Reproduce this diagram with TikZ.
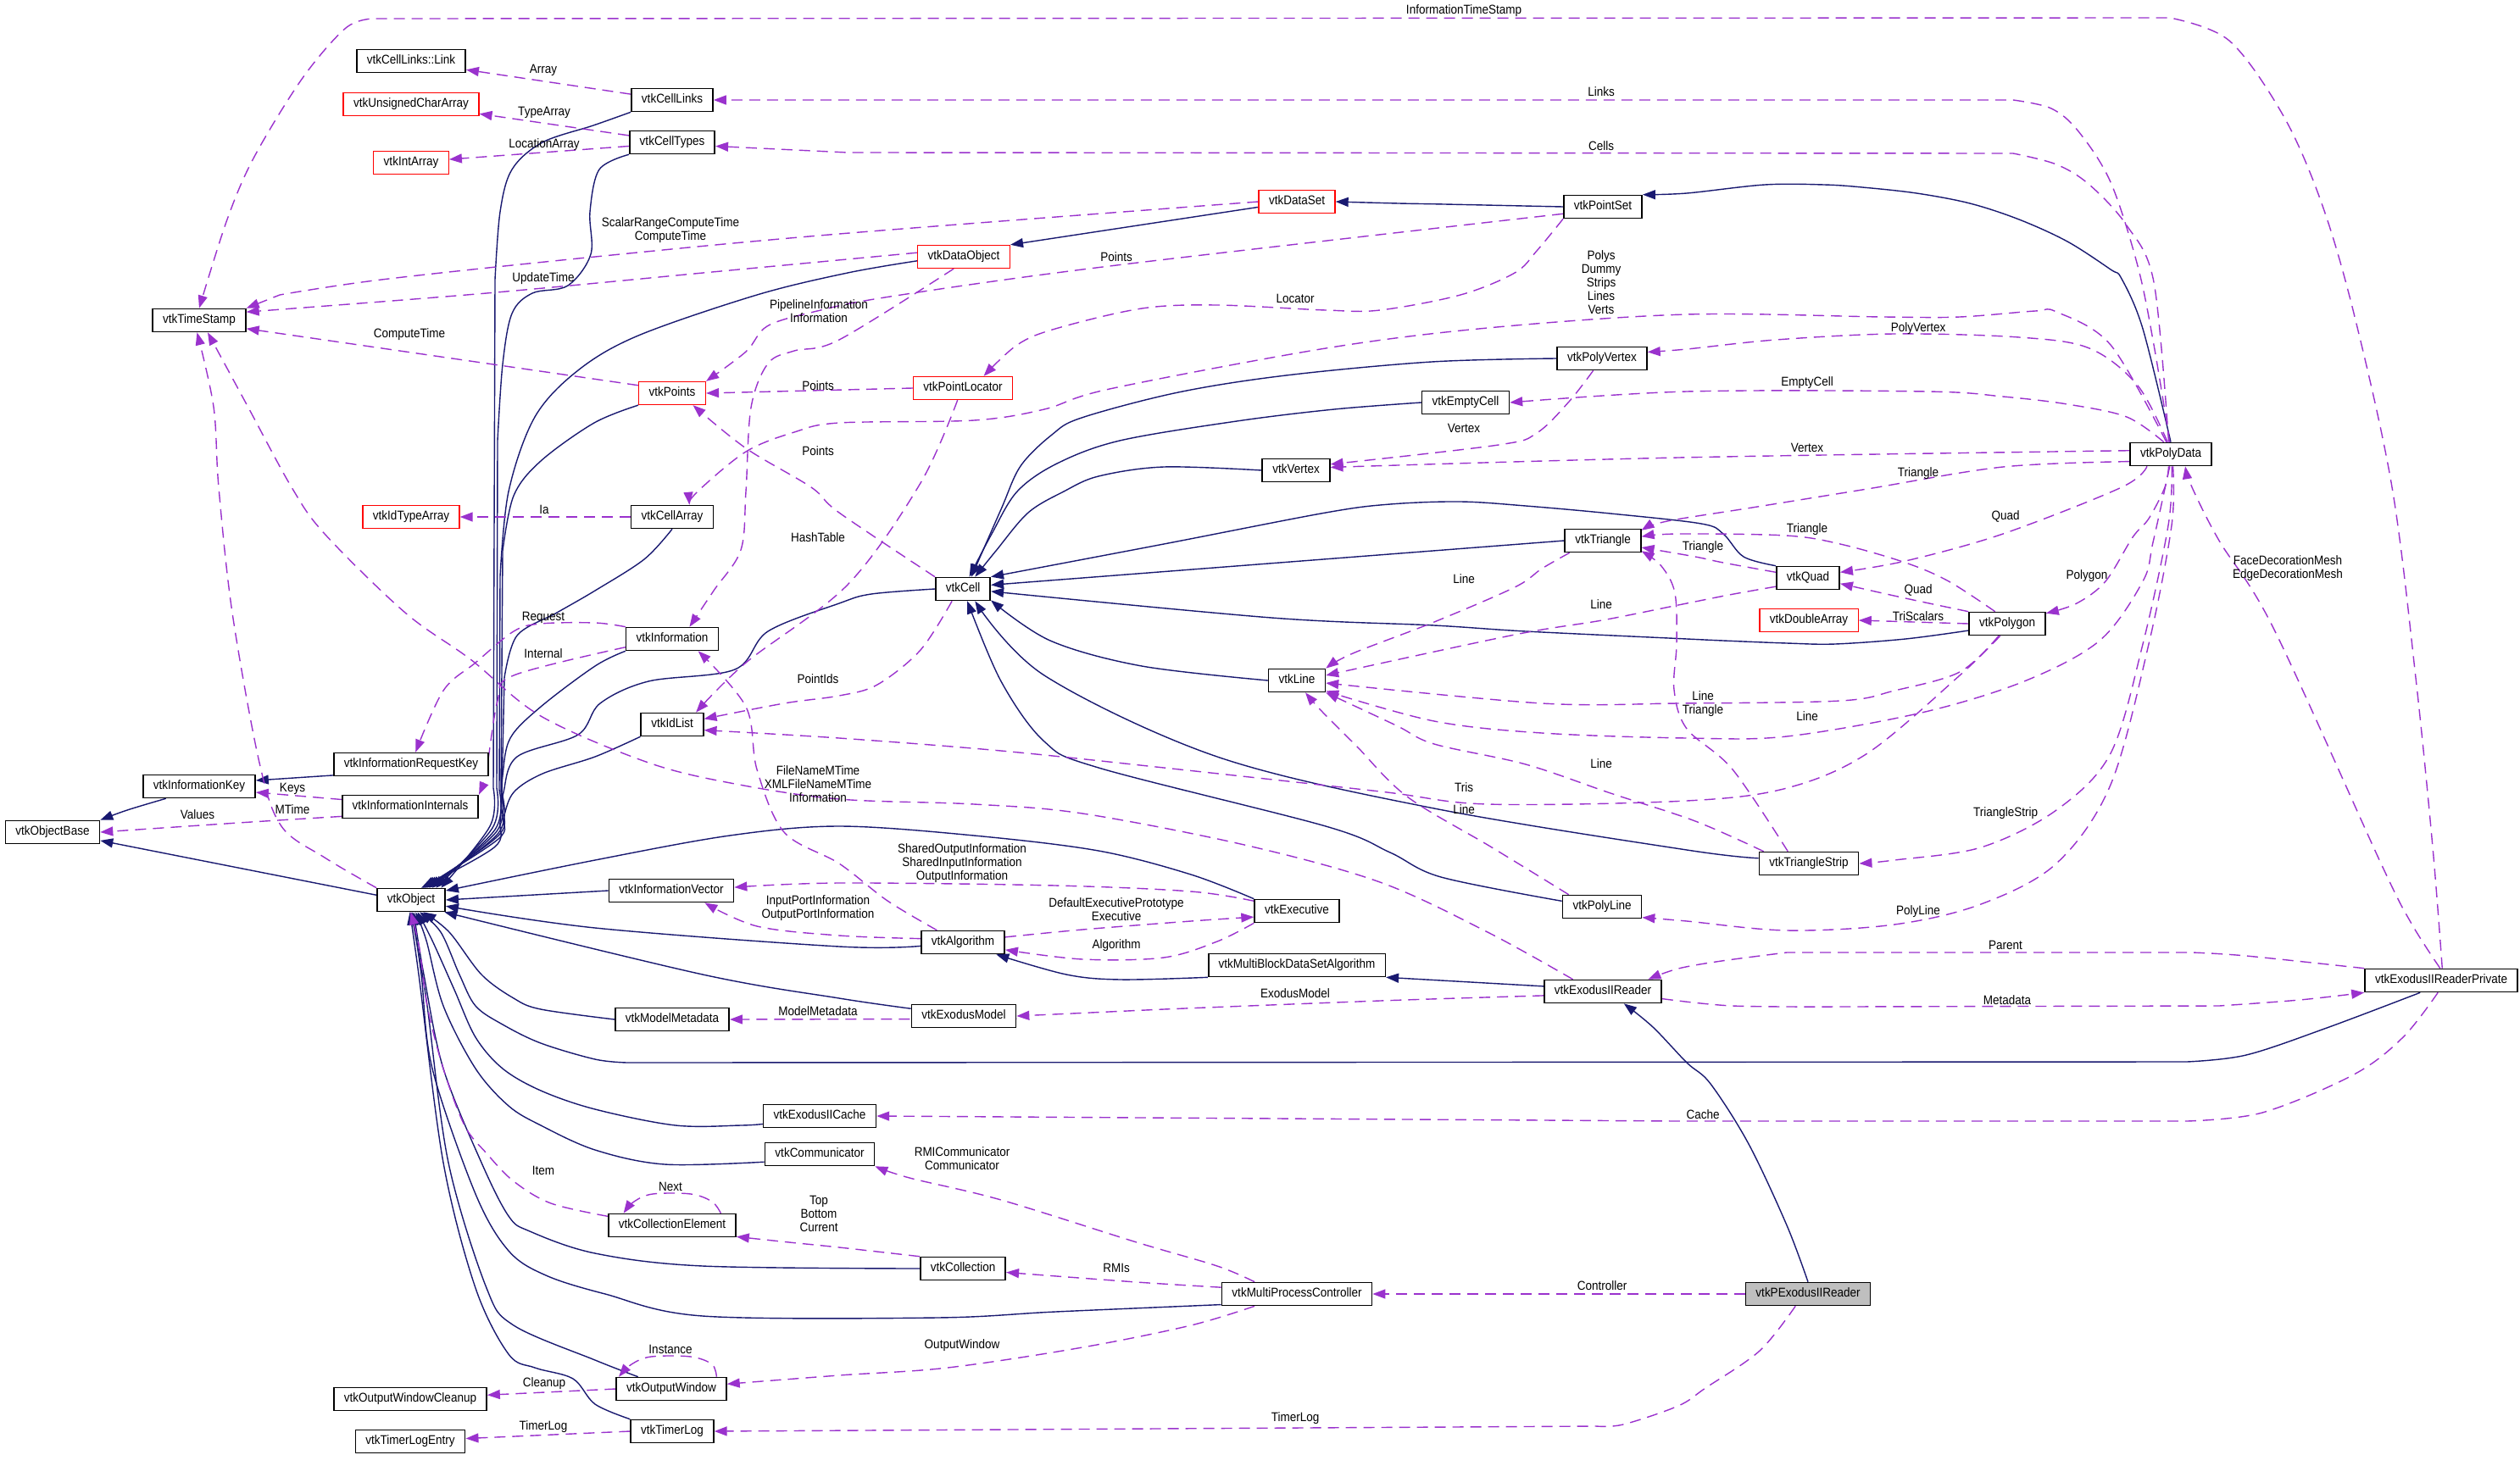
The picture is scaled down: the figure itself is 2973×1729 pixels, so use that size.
\documentclass[tikz,border=0pt]{standalone}
\usepackage{fontspec}
\setmainfont{Liberation Sans}[FakeStretch=0.9]
\usetikzlibrary{arrows.meta}
\definecolor{mblue}{HTML}{191970}
\definecolor{dpurple}{HTML}{9A32CD}
\definecolor{nodegrey}{HTML}{BFBFBF}
\pgfdeclarelayer{edges}
\pgfsetlayers{edges,main}
\begin{document}
\begin{tikzpicture}[x=1pt,y=-1pt,
  every node/.style={font=\fontsize{15}{16}\selectfont},
  cls/.style={draw=black, line width=1.6pt, fill=white, inner xsep=12pt, inner ysep=0pt, minimum height=27pt, text height=11pt, text depth=3.5pt},
  redcls/.style={cls, draw=red, line width=1.3pt},
  lbl/.style={inner sep=0pt, align=center, text=black},
  inh/.style={draw=mblue, line width=1.4pt, -{Triangle[length=15pt,width=11pt]}},
  use/.style={draw=dpurple, line width=1.4pt, dash pattern=on 13pt off 8pt, -{Triangle[length=15pt,width=11pt]}},
  sm/.style={smooth, tension=0.55}]
\useasboundingbox (0,0) rectangle (2973,1729);
% ---------------- nodes ----------------
\node[cls] (Link) at (485,72) {vtkCellLinks::Link};
\node[redcls] (UChar) at (485,123) {vtkUnsignedCharArray};
\node[redcls] (IntArr) at (485,192) {vtkIntArray};
\node[cls] (CellLinks) at (793,118) {vtkCellLinks};
\node[cls] (CellTypes) at (793,168) {vtkCellTypes};
\node[cls] (TimeStamp) at (235,378) {vtkTimeStamp};
\node[redcls] (DataSet) at (1530,238) {vtkDataSet};
\node[cls] (PointSet) at (1891,244) {vtkPointSet};
\node[redcls] (DataObject) at (1137,303) {vtkDataObject};
\node[redcls] (Points) at (793,464) {vtkPoints};
\node[redcls] (PointLocator) at (1136,458) {vtkPointLocator};
\node[cls] (PolyVertex) at (1890,423) {vtkPolyVertex};
\node[cls] (EmptyCell) at (1729,475) {vtkEmptyCell};
\node[cls] (Vertex) at (1529,555) {vtkVertex};
\node[cls] (PolyData) at (2561,536) {vtkPolyData};
\node[redcls] (IdTypeArray) at (485,610) {vtkIdTypeArray};
\node[cls] (CellArray) at (793,610) {vtkCellArray};
\node[cls] (Cell) at (1136,695) {vtkCell};
\node[cls] (Triangle) at (1891,638) {vtkTriangle};
\node[cls] (Quad) at (2133,682) {vtkQuad};
\node[redcls] (DoubleArray) at (2134,732) {vtkDoubleArray};
\node[cls] (Polygon) at (2368,736) {vtkPolygon};
\node[cls] (Information) at (793,754) {vtkInformation};
\node[cls] (Line) at (1530,803) {vtkLine};
\node[cls] (IdList) at (793,855) {vtkIdList};
\node[cls] (ReqKey) at (485,902) {vtkInformationRequestKey};
\node[cls] (InfoKey) at (235,928) {vtkInformationKey};
\node[cls] (InfoInt) at (484,952) {vtkInformationInternals};
\node[cls] (ObjectBase) at (62,982) {vtkObjectBase};
\node[cls] (Object) at (485,1062) {vtkObject};
\node[cls] (InfoVec) at (792,1051) {vtkInformationVector};
\node[cls] (TriStrip) at (2134,1019) {vtkTriangleStrip};
\node[cls] (Executive) at (1530,1075) {vtkExecutive};
\node[cls] (PolyLine) at (1890,1070) {vtkPolyLine};
\node[cls] (Algorithm) at (1136,1112) {vtkAlgorithm};
\node[cls] (MBDS) at (1530,1139) {vtkMultiBlockDataSetAlgorithm};
\node[cls] (Reader) at (1891,1170) {vtkExodusIIReader};
\node[cls] (Private) at (2880,1157) {vtkExodusIIReaderPrivate};
\node[cls] (ModelMeta) at (793,1203) {vtkModelMetadata};
\node[cls] (ExModel) at (1137,1199) {vtkExodusModel};
\node[cls] (Cache) at (967,1317) {vtkExodusIICache};
\node[cls] (Comm) at (967,1362) {vtkCommunicator};
\node[cls] (CollElem) at (793,1446) {vtkCollectionElement};
\node[cls] (Collection) at (1136,1497) {vtkCollection};
\node[cls] (MPC) at (1530,1527) {vtkMultiProcessController};
\node[cls, fill=nodegrey] (PReader) at (2133,1527) {vtkPExodusIIReader};
\node[cls] (OWCleanup) at (484,1651) {vtkOutputWindowCleanup};
\node[cls] (OW) at (792,1639) {vtkOutputWindow};
\node[cls] (TLEntry) at (484,1701) {vtkTimerLogEntry};
\node[cls] (TimerLog) at (793,1689) {vtkTimerLog};
\begin{pgfonlayer}{edges}
% ---------------- inheritance edges ----------------
\draw[inh] plot[sm] coordinates {(CellLinks.south west) (700,148) (640,168) (604,200) (590,250) (584,330)} -- plot[sm] coordinates {(582,930) (578,975) (Object.22)};
\draw[inh] plot[sm] coordinates {(CellTypes.south west) (707,200) (696,250) (697,300) (670,337) (628,346) (604,370) (593,430) (587,520)} -- plot[sm] coordinates {(586,930) (581,977) (Object.26)};
\draw[inh] plot[sm] coordinates {(DataObject.-175) (1000,322) (893,348) (753,396) (682,437) (631,492) (600,580) (590,680)} -- plot[sm] coordinates {(589,932) (584,979) (Object.30)};
\draw[inh] plot[sm] coordinates {(Points.south west) (701,499) (638,544) (606,585) (593,650)} -- plot[sm] coordinates {(591,934) (586,981) (Object.34)};
\draw[inh] plot[sm] coordinates {(CellArray.south) (760,660) (702,697) (657,723) (610,750) (595,800)} -- plot[sm] coordinates {(592,936) (588,983) (Object.38)};
\draw[inh] plot[sm] coordinates {(Information.south west) (702,786) (638,834) (602,871) (593,915) (591,950) (589,985) (Object.42)};
\draw[inh] plot[sm] coordinates {(IdList.south west) (702,893) (640,913) (606,935) (594,965) (588,990) (Object.46)};
\draw[inh] plot[sm] coordinates {(Cell.west) (1028,701) (990,712) (906,745) (867,790) (765,804) (708,830) (682,867) (610,893) (594,935) (590,970) (583,1000) (Object.50)};
\draw[inh] (InfoVec.west) -- (Object.east);
\draw[inh] plot[sm] coordinates {(Executive.north west) (1405,1032) (1296,1004) (1149,986) (990,975) (861,986) (702,1015) (Object.15)};
\draw[inh] plot[sm] coordinates {(Algorithm.-175) (990,1117) (702,1095) (Object.-10)};
\draw[inh] plot[sm] coordinates {(ExModel.172) (990,1178) (829,1150) (Object.-20)};
\draw[inh] plot[sm] coordinates {(Private.-150) (2745,1213) (2650,1245) (2580,1253)} -- plot[sm] coordinates {(740,1254) (702,1250) (638,1231) (593,1209) (561,1187) (542,1150) (520,1100) (Object.-55)};
\draw[inh] plot[sm] coordinates {(ModelMeta.west) (638,1191) (606,1178) (568,1150) (530,1100) (Object.-45)};
\draw[inh] plot[sm] coordinates {(Cache.-172) (874,1328) (797,1328) (702,1309) (638,1287) (593,1261) (561,1224) (536,1168) (510,1110) (Object.-62)};
\draw[inh] plot[sm] coordinates {(Comm.-172) (784,1374) (702,1357) (638,1328) (600,1305) (561,1261) (523,1187) (503,1110) (Object.-70)};
\draw[inh] plot[sm] coordinates {(Collection.west) (829,1494) (702,1479) (625,1453) (600,1435) (568,1372) (523,1261) (500,1150) (Object.-78)};
\draw[inh] plot[sm] coordinates {(MPC.-172) (1245,1548) (1105,1555) (829,1553) (714,1527) (644,1505) (600,1476) (561,1409) (510,1261) (497,1150) (Object.-84)};
\draw[inh] plot[sm] coordinates {(OW.160) (702,1605) (606,1564) (574,1520) (529,1372) (504,1187) (493,1120) (Object.-90)};
\draw[inh] plot[sm] coordinates {(TimerLog.north west) (702,1657) (676,1627) (631,1614) (600,1598) (561,1520) (523,1372) (494,1150) (Object.-96)};
\draw[inh] (Object.172) -- (ObjectBase.-10);
\draw[inh] plot[sm] coordinates {(InfoKey.-160) (150,956) (ObjectBase.north east)};
\draw[inh] (ReqKey.-172) -- (InfoKey.6);
\draw[inh] (DataSet.-172) -- (DataObject.north east);
\draw[inh] plot[sm] coordinates {(PointSet.west) (1704,241) (1650,240) (DataSet.east)};
\draw[inh] plot[sm] coordinates {(PolyData.north) (2528,388) (2503,329) (2490,318) (2439,285) (2382,259) (2324,240) (2261,228) (2197,221) (2152,218) (2082,218) (1990,228) (PointSet.north east)};
\draw[inh] plot[sm] coordinates {(PolyVertex.west) (1689,427) (1517,443) (1390,463) (1276,493) (1241,513) (1204,550) (1181,601) (Cell.55)};
\draw[inh] plot[sm] coordinates {(EmptyCell.west) (1574,483) (1459,497) (1321,520) (1247,547) (1200,580) (1170,630) (Cell.62)};
\draw[inh] plot[sm] coordinates {(Vertex.west) (1373,551) (1296,562) (1255,580) (1213,605) (1175,650) (Cell.45)};
\draw[inh] (Triangle.west) -- (Cell.8);
\draw[inh] plot[sm] coordinates {(Quad.north west) (2057,657) (2033,630) (2007,618) (1900,606) (1800,597) (1723,592) (1640,595) (1564,605) (1373,642) (Cell.north east)};
\draw[inh] plot[sm] coordinates {(Polygon.-170) (2248,754) (2165,760) (2108,759) (2033,756) (1990,754) (1800,745) (1692,738) (1500,729) (Cell.-5)};
\draw[inh] plot[sm] coordinates {(Line.west) (1347,786) (1239,756) (Cell.-22)};
\draw[inh] plot[sm] coordinates {(TriStrip.174) (1990,1003) (1692,954) (1436,893) (1232,797) (Cell.-45)};
\draw[inh] plot[sm] coordinates {(PolyLine.172) (1700,1035) (1640,1006) (1564,975) (1296,906) (1232,875) (1181,804) (Cell.-70)};
\draw[inh] plot[sm] coordinates {(MBDS.south west) (1322,1156) (1258,1150) (Algorithm.-20)};
\draw[inh] (Reader.175) -- (MBDS.south east);
\draw[inh] plot[sm] coordinates {(PReader.north) (2108,1446) (2063,1350) (2018,1279) (1990,1254) (1950,1212) (Reader.-30)};
% ---------------- usage edges ----------------
\draw[use] (CellLinks.172) -- (Link.-9);
\draw[use] (CellTypes.171) -- (UChar.-8);
\draw[use] (CellTypes.-175) -- (IntArr.5);
\draw[use] plot[sm] coordinates {(Private.85) (2870,1000) (2850,800) (2822,575) (2777,370) (2739,240) (2694,137) (2630,48) (2560,21)} -- plot[sm] coordinates {(440,22) (408,33) (357,92) (300,185) (268,259) (TimeStamp.north)};
\draw[use] plot[sm] coordinates {(PolyData.95) (2541,407) (2522,314) (2490,215) (2452,155) (2420,128) (2375,118)} -- (CellLinks.east);
\draw[use] plot[sm] coordinates {(PolyData.100) (2541,333) (2509,266) (2465,218) (2426,194) (2375,181)} -- (1000,180) -- (CellTypes.-5);
\draw[use] plot[sm] coordinates {(DataSet.west) (990,276) (702,303) (450,330) (330,348)} -- (TimeStamp.north east);
\draw[use] plot[sm] coordinates {(DataObject.175) (840,321) (574,346) (TimeStamp.10)};
\draw[use] (Points.167) -- (TimeStamp.-10);
\draw[use] plot[sm] coordinates {(PointSet.-170) (1309,314) (1050,350) (960,368) (905,385) (880,415) (Points.north east)};
\draw[use] plot[sm] coordinates {(DataObject.-130) (990,401) (937,414) (906,429) (886,481) (880,580) (874,649) (842,697) (Information.35)};
\draw[use] plot[sm] coordinates {(PointSet.south west) (1813,296) (1787,322) (1723,348) (1628,366) (1564,366) (1436,360) (1347,364) (1245,388) (1200,407) (PointLocator.30)};
\draw[use] plot[sm] coordinates {(PolyData.110) (2490,407) (2426,368) (2401,367) (2312,374) (2222,374) (1990,371) (1755,387) (1564,411) (1309,459) (1232,483) (1149,496) (990,499) (937,510) (880,533) (823,580) (CellArray.35)};
\draw[use] (PointLocator.west) -- (Points.east);
\draw[use] plot[sm] coordinates {(PointLocator.-114) (1086,570) (1000,690) (880,782) (IdList.27)};
\draw[use] plot[sm] coordinates {(Cell.north west) (990,605) (957,575) (880,529) (Points.-30)};
\draw[use] plot[sm] coordinates {(Cell.-132) (1086,767) (1035,808) (990,821) (925,830) (IdList.10)};
\draw[use] plot[sm] coordinates {(Polygon.-120) (2312,797) (2203,889) (2108,930) (1990,945) (1755,949) (1628,934) (1373,906) (1181,886) (990,871) (IdList.-10)};
\draw[use] plot[sm] coordinates {(Triangle.-160) (1819,671) (1787,693) (1692,734) (1596,771) (Line.north east)};
\draw[use] plot[sm] coordinates {(Quad.-165) (2040,702) (1980,714) (1890,732) (1787,749) (Line.10)};
\draw[use] plot[sm] coordinates {(Quad.170) (2033,664) (2000,657) (Triangle.-10)};
\draw[use] plot[sm] coordinates {(Polygon.135) (2299,686) (2248,664) (2171,642) (2107,632) (1980,630) (Triangle.6)};
\draw[use] plot[sm] coordinates {(PolyData.-170) (2363,551) (2203,577) (2067,599) (1967,615) (Triangle.15)};
\draw[use] plot[sm] coordinates {(Polygon.north west) (2248,706) (Quad.-10)};
\draw[use] plot[sm] coordinates {(PolyData.-153) (2503,575) (2363,630) (2248,662) (Quad.10)};
\draw[use] (Polygon.west) -- (DoubleArray.east);
\draw[use] plot[sm] coordinates {(PolyData.-100) (2554,575) (2535,612) (2516,634) (2484,686) (2450,712) (Polygon.15)};
\draw[use] plot[sm] coordinates {(Polygon.-125) (2312,793) (2235,815) (2171,827) (1980,830) (1819,830) (Line.-5)};
\draw[use] plot[sm] coordinates {(TriStrip.150) (2044,908) (1990,860) (1975,814) (1978,760) (1976,700) (1960,668) (Triangle.-15)};
\draw[use] plot[sm] coordinates {(PolyData.-95) (2540,640) (2528,686) (2477,756) (2388,804) (2267,841) (2108,869) (1990,871) (1819,865) (1692,851) (Line.-20)};
\draw[use] plot[sm] coordinates {(TriStrip.165) (2000,969) (1900,936) (1800,902) (1692,878) (1647,856) (Line.south east)};
\draw[use] plot[sm] coordinates {(PolyLine.160) (1760,1000) (1660,940) (1600,880) (1560,840) (Line.-55)};
\draw[use] plot[sm] coordinates {(PolyData.-85) (2558,620) (2528,760) (2490,889) (2426,956) (2337,1000) (2235,1015) (TriStrip.east)};
\draw[use] plot[sm] coordinates {(PolyData.-80) (2562,620) (2535,760) (2490,926) (2426,1019) (2337,1067) (2235,1091) (2108,1098) (1990,1087) (PolyLine.-15)};
\draw[use] plot[sm] coordinates {(PolyData.175) (1980,540) (Vertex.5)};
\draw[use] plot[sm] coordinates {(PolyData.120) (2509,492) (2439,477) (2363,468) (2273,462) (1990,462) (EmptyCell.east)};
\draw[use] plot[sm] coordinates {(PolyData.105) (2522,455) (2465,411) (2382,398) (2235,394) (2095,401) (1990,412) (PolyVertex.8)};
\draw[use] plot[sm] coordinates {(PolyVertex.-126) (1851,474) (1813,511) (1768,525) (Vertex.10)};
\draw[use] plot[sm] coordinates {(Private.95) (2845,1090) (2809,1019) (2682,741) (2618,638) (2586,575) (PolyData.-40)};
\draw[use] plot[sm] coordinates {(Reader.-7) (2044,1187) (2171,1188)} -- plot[sm] coordinates {(2618,1187) (2713,1180) (Private.south west)};
\draw[use] plot[sm] coordinates {(Private.north west) (2650,1128) (2586,1124)} -- plot[sm] coordinates {(2108,1124) (2031,1134) (1980,1143) (Reader.15)};
\draw[use] plot[sm] coordinates {(Private.-105) (2835,1224) (2777,1268) (2669,1313) (2580,1323)} -- (1980,1323) -- (Cache.east);
\draw[use] plot[sm] coordinates {(Reader.-176) (1628,1181) (1373,1191)} -- (ExModel.east);
\draw[use] (ExModel.-3) -- (ModelMeta.east);
\draw[use] plot[sm] coordinates {(Reader.158) (1755,1100) (1628,1041) (1468,997) (1277,960) (1149,949) (990,943) (867,925) (765,900) (638,845) (555,778) (478,723) (383,630) (344,575) (293,481) (TimeStamp.-55)};
\draw[use] plot[sm] coordinates {(Object.north west) (383,1012) (332,975) (306,900) (274,723) (258,575) (252,480) (TimeStamp.-100)};
\draw[use] plot[sm] coordinates {(Algorithm.155) (1047,1063) (990,1019) (925,982) (893,908) (880,834) (Information.-25)};
\draw[use] plot[sm] coordinates {(Information.north west) (702,735) (638,736) (606,745) (561,782) (523,815) (ReqKey.70)};
\draw[use] plot[sm] coordinates {(Information.-170) (606,797) (587,827) (574,908) (InfoInt.north east)};
\draw[use] (InfoInt.174) -- (InfoKey.-6);
\draw[use] plot[sm] coordinates {(InfoInt.-172) (281,971) (ObjectBase.east)};
\draw[use] (CellArray.west) -- (IdTypeArray.east);
\draw[use] plot[sm] coordinates {(Algorithm.175) (990,1104) (893,1093) (InfoVec.-20)};
\draw[use] plot[sm] coordinates {(Executive.167) (1405,1052) (1245,1045) (990,1042) (InfoVec.3)};
\draw[use] plot[sm] coordinates {(Algorithm.7) (1277,1097) (1405,1087) (Executive.-172)};
\draw[use] plot[sm] coordinates {(Executive.south west) (1436,1111) (1373,1130) (1277,1132) (Algorithm.-10)};
\draw[use] plot[sm] coordinates {(Collection.north west) (990,1472) (931,1466) (CollElem.-10)};
\draw[use] plot[sm] coordinates {(CollElem.14) (840,1418) (815,1409) (770,1409) (748,1418) (CollElem.166)};
\draw[use] plot[sm] coordinates {(CollElem.172) (650,1420) (606,1394) (574,1361) (548,1328) (523,1261) (504,1187) (495,1120) (Object.-92)};
\draw[use] plot[sm] coordinates {(MPC.164) (1436,1494) (1341,1466) (1181,1416) (1073,1390) (Comm.south east)};
\draw[use] plot[sm] coordinates {(MPC.175) (1341,1513) (Collection.-5)};
\draw[use] plot[sm] coordinates {(MPC.-164) (1405,1564) (1277,1590) (1118,1614) (990,1623) (OW.5)};
\draw[use] (PReader.west) -- (MPC.east);
\draw[use] plot[sm] coordinates {(PReader.-136) (2076,1594) (2012,1638) (1980,1659) (1915,1681) (1883,1683)} -- (TimerLog.east);
\draw[use] plot[sm] coordinates {(OW.15) (840,1610) (815,1601) (768,1601) (745,1610) (OW.167)};
\draw[use] (OW.west) -- (OWCleanup.3);
\draw[use] (TimerLog.west) -- (TLEntry.3);
\end{pgfonlayer}
% ---------------- labels ----------------
\node[lbl] (tArray) at (641,83) {Array};
\node[lbl] (tTypeArray) at (642,133) {TypeArray};
\node[lbl] (tLocArray) at (642,171) {LocationArray};
\node[lbl] (tInfoTS) at (1727,13) {InformationTimeStamp};
\node[lbl] (tLinks) at (1889,108) {Links};
\node[lbl] (tCells) at (1889,172) {Cells};
\node[lbl] (tScalar) at (791,272) {ScalarRangeComputeTime\\ComputeTime};
\node[lbl] (tUpdate) at (641,329) {UpdateTime};
\node[lbl] (tCompute) at (483,395) {ComputeTime};
\node[lbl] (tPoints1) at (1317,303) {Points};
\node[lbl] (tPipe) at (966,367) {PipelineInformation\\Information};
\node[lbl] (tLocator) at (1528,352) {Locator};
\node[lbl] (tPolys) at (1889,333) {Polys\\Dummy\\Strips\\Lines\\Verts};
\node[lbl] (tPolyVertex) at (2263,388) {PolyVertex};
\node[lbl] (tPoints2) at (965,455) {Points};
\node[lbl] (tEmptyCell) at (2132,452) {EmptyCell};
\node[lbl] (tVertex1) at (1727,505) {Vertex};
\node[lbl] (tVertex2) at (2132,528) {Vertex};
\node[lbl] (tPoints3) at (965,532) {Points};
\node[lbl] (tTri1) at (2263,559) {Triangle};
\node[lbl] (tIa) at (642,601) {Ia};
\node[lbl] (tQuad1) at (2366,609) {Quad};
\node[lbl] (tTri2) at (2132,625) {Triangle};
\node[lbl] (tHash) at (965,634) {HashTable};
\node[lbl] (tTri3) at (2009,646) {Triangle};
\node[lbl] (tFace) at (2699,671) {FaceDecorationMesh\\EdgeDecorationMesh};
\node[lbl] (tPolygon) at (2462,680) {Polygon};
\node[lbl] (tLine1) at (1727,683) {Line};
\node[lbl] (tQuad2) at (2263,696) {Quad};
\node[lbl] (tLine2) at (1889,713) {Line};
\node[lbl] (tTriScalars) at (2263,727) {TriScalars};
\node[lbl] (tRequest) at (641,729) {Request};
\node[lbl] (tInternal) at (641,771) {Internal};
\node[lbl] (tPointIds) at (965,801) {PointIds};
\node[lbl] (tLine3) at (2009,831) {Line\\Triangle};
\node[lbl] (tLine4) at (2132,845) {Line};
\node[lbl] (tLine5) at (1889,901) {Line};
\node[lbl] (tFileName) at (965,925) {FileNameMTime\\XMLFileNameMTime\\Information};
\node[lbl] (tTris) at (1727,929) {Tris};
\node[lbl] (tKeys) at (345,931) {Keys};
\node[lbl] (tLine6) at (1727,955) {Line};
\node[lbl] (tMTime) at (345,955) {MTime};
\node[lbl] (tTriStrip) at (2366,960) {TriangleStrip};
\node[lbl] (tValues) at (233,961) {Values};
\node[lbl] (tShared) at (1135,1019) {SharedOutputInformation\\SharedInputInformation\\OutputInformation};
\node[lbl] (tInPort) at (965,1072) {InputPortInformation\\OutputPortInformation};
\node[lbl] (tDefExec) at (1317,1073) {DefaultExecutivePrototype\\Executive};
\node[lbl] (tPolyLine) at (2263,1076) {PolyLine};
\node[lbl] (tParent) at (2366,1115) {Parent};
\node[lbl] (tAlgorithm) at (1317,1116) {Algorithm};
\node[lbl] (tExModel) at (1528,1172) {ExodusModel};
\node[lbl] (tMetadata) at (2368,1180) {Metadata};
\node[lbl] (tModelMeta) at (965,1193) {ModelMetadata};
\node[lbl] (tCache) at (2009,1315) {Cache};
\node[lbl] (tRMI) at (1135,1367) {RMICommunicator\\Communicator};
\node[lbl] (tItem) at (641,1381) {Item};
\node[lbl] (tNext) at (791,1400) {Next};
\node[lbl] (tTop) at (966,1432) {Top\\Bottom\\Current};
\node[lbl] (tRMIs) at (1317,1496) {RMIs};
\node[lbl] (tController) at (1890,1517) {Controller};
\node[lbl] (tOW) at (1135,1588) {OutputWindow};
\node[lbl] (tInstance) at (791,1592) {Instance};
\node[lbl] (tCleanup) at (642,1633) {Cleanup};
\node[lbl] (tTimerLog1) at (1528,1674) {TimerLog};
\node[lbl] (tTimerLog2) at (641,1684) {TimerLog};
\end{tikzpicture}
\end{document}
